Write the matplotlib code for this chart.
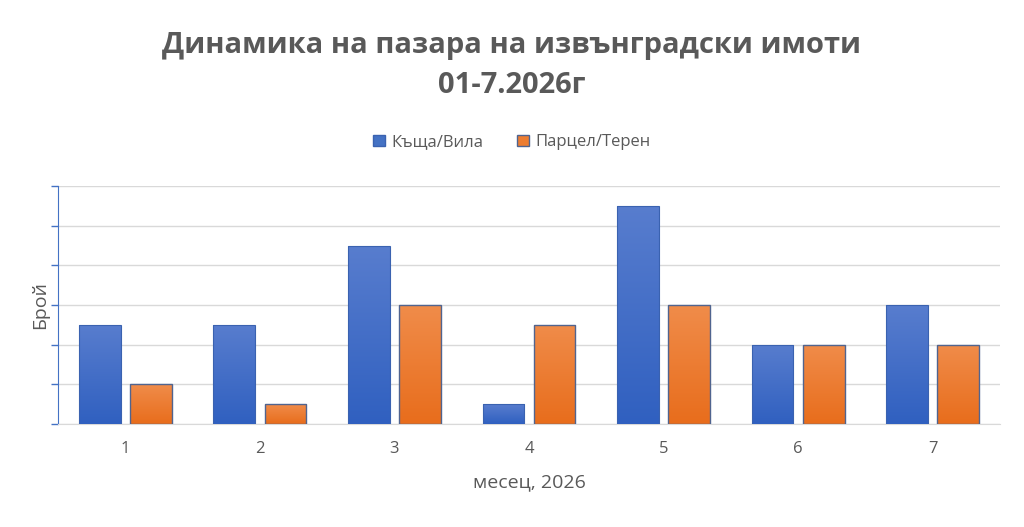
import matplotlib
matplotlib.use('Agg')
import matplotlib.pyplot as plt
import numpy as np
from matplotlib.colors import LinearSegmentedColormap

plt.rcParams['font.family'] = ['Open Sans', 'DejaVu Sans']

months = ['1', '2', '3', '4', '5', '6', '7']
houses = [5, 5, 9, 1, 11, 4, 6]      # Къща/Вила
plots = [2, 1, 6, 5, 6, 4, 4]        # Парцел/Терен

title = 'Динамика на пазара на извънградски имоти\n01-7.2026г'
series_names = ['Къща/Вила', 'Парцел/Терен']

blue_map = LinearSegmentedColormap.from_list('b', ['#3060c0', '#587dce'])
orange_map = LinearSegmentedColormap.from_list('o', ['#e86d1c', '#f08c4a'])

fig = plt.figure(figsize=(10.24, 5.27), dpi=100)
ax = fig.add_axes([0.0566, 0.1954, 0.92, 0.4516])

x = np.arange(len(months))
w = 0.31
b1 = ax.bar(x - 0.19, houses, w, color='#4472c4', edgecolor='#3a62b0', linewidth=0.8,
            label=series_names[0], zorder=4)
b2 = ax.bar(x + 0.19, plots, w, color='#ed7d31', edgecolor='#50648f', linewidth=1.0,
            label=series_names[1], zorder=4)

# gradient fill clipped to each bar, bar outline stays on top
grad = np.linspace(0, 1, 256).reshape(-1, 1)
for bars, cmap in ((b1, blue_map), (b2, orange_map)):
    for r in bars:
        x0, y0 = r.get_x(), r.get_y()
        im = ax.imshow(grad, cmap=cmap, aspect='auto', origin='lower',
                       extent=[x0, x0 + r.get_width(), y0, y0 + r.get_height()], zorder=3)
        im.set_clip_path(r)
        r.set_facecolor('none')
ax.set_xlim(-0.5, 6.5)
ax.set_ylim(0, 12)

ax.set_yticks(np.arange(0, 13, 2))
ax.set_yticklabels([])
ax.yaxis.grid(True, color='#d9d9d9', linewidth=1, zorder=0)
ax.set_xticks(x)
ax.set_xticklabels(months, fontsize=12, color='#595959')
ax.tick_params(axis='x', length=0, pad=12)
ax.tick_params(axis='y', length=5, color='#4472c4', width=1)

for s in ['top', 'right']:
    ax.spines[s].set_visible(False)
ax.spines['left'].set_color('#4472c4')
ax.spines['bottom'].set_color('#d9d9d9')

ax.set_xlabel('месец, 2026', fontsize=14, color='#595959', labelpad=12)
ax.set_ylabel('Брой', fontsize=14, color='#595959', labelpad=-2)

fig.text(0.5, 0.875, title, ha='center', va='center', fontsize=21, fontweight='bold',
         color='#595959', linespacing=1.5)

h1 = plt.Rectangle((0, 0), 1, 1, facecolor='#4472c4', edgecolor='#3a62b0')
h2 = plt.Rectangle((0, 0), 1, 1, facecolor='#ed7d31', edgecolor='#50648f')
leg = fig.legend(handles=[h1, h2], labels=series_names, loc='center', bbox_to_anchor=(0.5, 0.73),
                 ncol=2, frameon=False, fontsize=12, handlelength=0.7, handleheight=0.7,
                 columnspacing=2.0, handletextpad=0.4)
for t in leg.get_texts():
    t.set_color('#595959')

fig.savefig('out.png', dpi=100)
